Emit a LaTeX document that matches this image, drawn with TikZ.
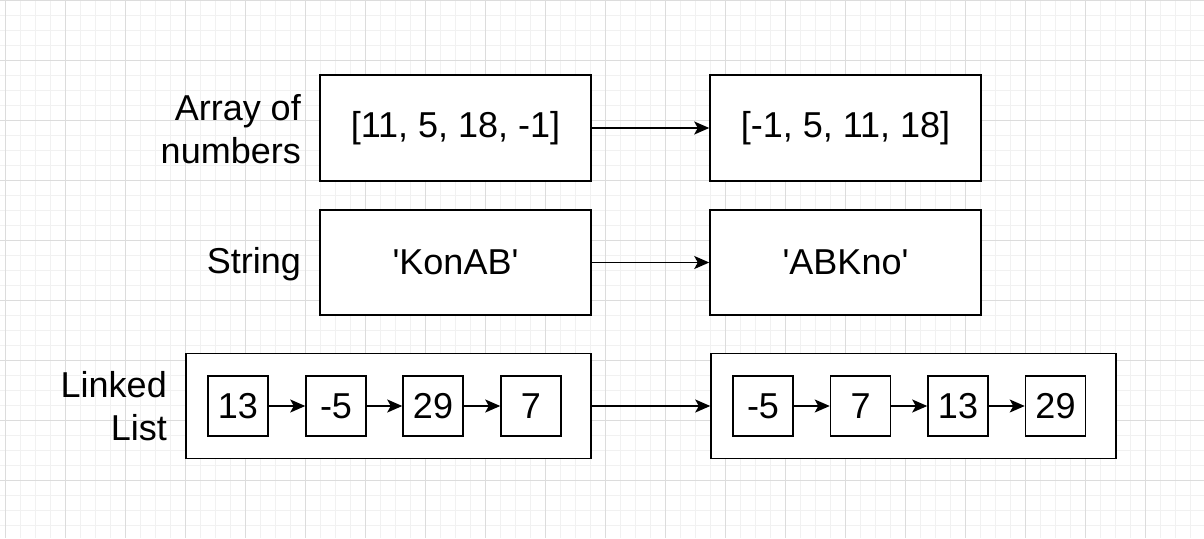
\documentclass[tikz,border=0pt]{standalone}
\usepackage{fontspec}
\setmainfont{Liberation Sans}
\usetikzlibrary{arrows.meta}
\definecolor{gridminor}{HTML}{F1F1F1}
\definecolor{gridmajor}{HTML}{DCDCDC}
\tikzset{
  box/.style={draw=black, line width=1.5pt, fill=white, inner sep=0pt, font=\fontsize{36}{43}\selectfont},
  label/.style={inner sep=0pt, align=right, font=\fontsize{36}{43}\selectfont},
  conn/.style={line width=1.6pt, -{Stealth[length=15pt,width=13pt,inset=3.5pt]}},
}
\begin{document}
\begin{tikzpicture}[x=1pt,y=-1pt]
\useasboundingbox (0,0) rectangle (1204,538);
\fill[white] (0,0) rectangle (1204,538);
% grid
\foreach \x in {5,20,...,1204} {\draw[gridminor, line width=1pt] (\x,0) -- (\x,538);}
\foreach \y in {15,30,...,538} {\draw[gridminor, line width=1pt] (0,\y) -- (1204,\y);}
\foreach \x in {5,65,...,1204} {\draw[gridmajor, line width=1pt] (\x,0) -- (\x,538);}
\foreach \y in {0,60,...,538} {\draw[gridmajor, line width=1pt] (0,\y) -- (1204,\y);}
% labels
\node[label, anchor=east] (lA) at (301,129) {Array of\\numbers};
\node[label, anchor=east] (lS) at (301,264) {String};
\node[label, anchor=east] (lL) at (167,406) {Linked\\List};
% array row
\node[box, minimum width=271pt, minimum height=106pt] (A1) at (455.5,128) {[11, 5, 18, -1]};
\node[box, minimum width=271pt, minimum height=106pt] (A2) at (845.5,128) {[-1, 5, 11, 18]};
\draw[conn] (A1.east) -- (A2.west);
% string row
\node[box, minimum width=271pt, minimum height=105pt] (S1) at (455.5,262.5) {\textquotesingle KonAB\textquotesingle};
\node[box, minimum width=271pt, minimum height=105pt] (S2) at (845.5,262.5) {\textquotesingle ABKno\textquotesingle};
\draw[conn] (S1.east) -- (S2.west);
% linked list row
\node[box, minimum width=405pt, minimum height=105pt] (L1) at (388.5,406) {};
\node[box, minimum width=405pt, minimum height=105pt] (L2) at (913.5,406) {};
\draw[conn] (L1.east) -- (L2.west);
\node[box, minimum width=60pt, minimum height=60pt] (a1) at (238,406) {13};
\node[box, minimum width=60pt, minimum height=60pt] (a2) at (336,406) {-5};
\node[box, minimum width=60pt, minimum height=60pt] (a3) at (433,406) {29};
\node[box, minimum width=60pt, minimum height=60pt] (a4) at (531,406) {7};
\draw[conn] (a1.east) -- (a2.west);
\draw[conn] (a2.east) -- (a3.west);
\draw[conn] (a3.east) -- (a4.west);
\node[box, minimum width=60pt, minimum height=60pt] (b1) at (763,406) {-5};
\node[box, minimum width=60pt, minimum height=60pt] (b2) at (860.5,406) {7};
\node[box, minimum width=60pt, minimum height=60pt] (b3) at (958,406) {13};
\node[box, minimum width=60pt, minimum height=60pt] (b4) at (1055.5,406) {29};
\draw[conn] (b1.east) -- (b2.west);
\draw[conn] (b2.east) -- (b3.west);
\draw[conn] (b3.east) -- (b4.west);
\end{tikzpicture}
\end{document}
